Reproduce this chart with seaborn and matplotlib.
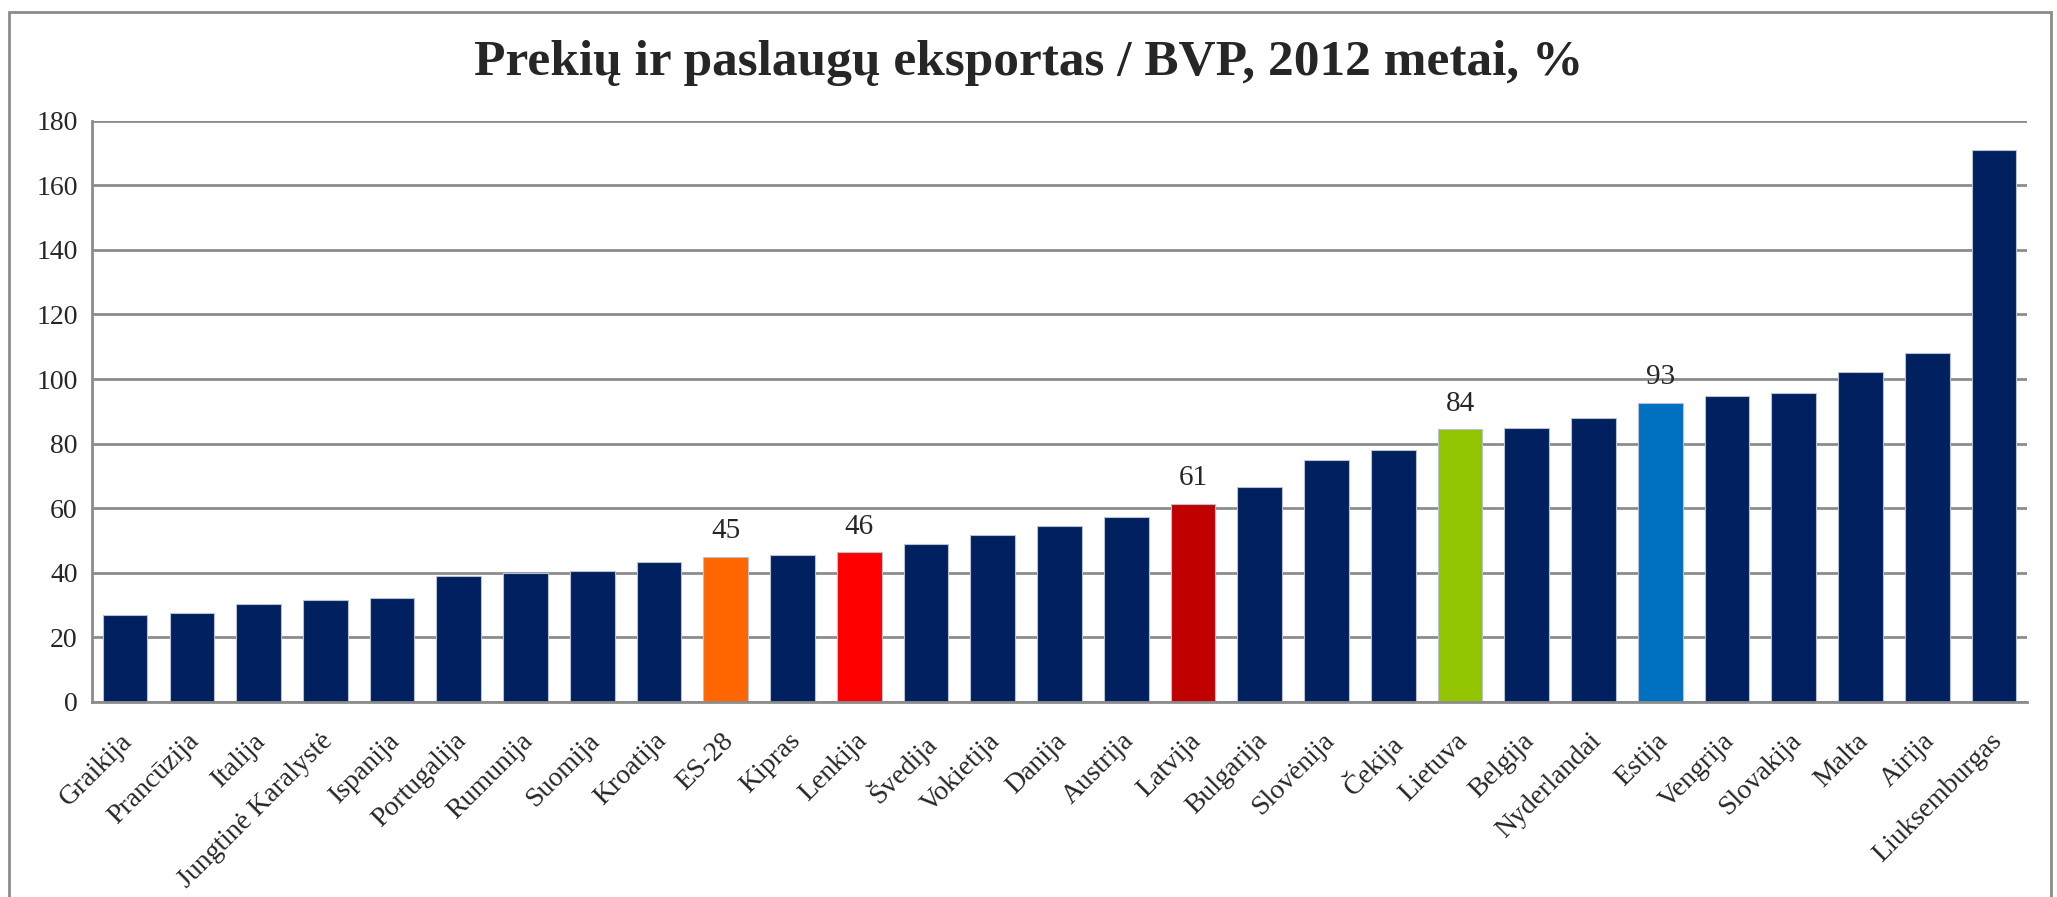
import matplotlib
matplotlib.use("Agg")
import matplotlib.pyplot as plt
from matplotlib.patches import Rectangle
from matplotlib.transforms import ScaledTranslation
import seaborn as sns
import pandas as pd

# chart data
countries = ["Graikija", "Prancūzija", "Italija", "Jungtinė Karalystė", "Ispanija",
             "Portugalija", "Rumunija", "Suomija", "Kroatija", "ES-28", "Kipras",
             "Lenkija", "Švedija", "Vokietija", "Danija", "Austrija", "Latvija",
             "Bulgarija", "Slovėnija", "Čekija", "Lietuva", "Belgija", "Nyderlandai",
             "Estija", "Vengrija", "Slovakija", "Malta", "Airija", "Liuksemburgas"]
export_share = [27.0, 27.5, 30.5, 31.5, 32.3, 39.0, 40.0, 40.5, 43.5, 44.8, 45.5,
                46.3, 48.8, 51.6, 54.5, 57.4, 61.2, 66.7, 75.0, 78.0, 84.4, 85.0,
                88.0, 92.7, 94.8, 95.8, 102.3, 108.0, 171.0]
highlight_labels = {"ES-28": "45", "Lenkija": "46", "Latvija": "61",
                    "Lietuva": "84", "Estija": "93"}

navy = "#002060"
highlight_colors = {"ES-28": "#FF6600", "Lenkija": "#FF0000", "Latvija": "#C00000",
                    "Lietuva": "#92C400", "Estija": "#0070C0"}
palette = [highlight_colors.get(c, navy) for c in countries]

df = pd.DataFrame({"country": countries, "value": export_share})

sns.set_style("white")
plt.rcParams["font.family"] = ["Liberation Serif", "DejaVu Serif"]

fig = plt.figure(figsize=(20.57, 8.97), dpi=100)
ax = fig.add_axes([0.0446, 0.2174, 0.941, 0.648])

sns.barplot(data=df, x="country", y="value", hue="country", palette=palette,
            legend=False, width=0.67, ax=ax, saturation=1,
            edgecolor="#b8c0d4", linewidth=0.8)

ax.set_ylim(0, 180)
ax.set_xlim(-0.5, len(countries) - 0.5)
ax.set_yticks(range(0, 181, 20))
ax.yaxis.grid(True, color="#8c8c8c", linewidth=2)
ax.set_axisbelow(True)
ax.set_xlabel("")
ax.set_ylabel("")

for s in ["top", "right"]:
    ax.spines[s].set_visible(False)
for s in ["left", "bottom"]:
    ax.spines[s].set_color("#8c8c8c")
    ax.spines[s].set_linewidth(2)

ax.tick_params(axis="y", labelsize=20, length=7, width=1.5, color="#8c8c8c", pad=3)
ax.set_xticks(range(len(countries)))
ax.set_xticklabels(countries, rotation=45, ha="right", rotation_mode="anchor", fontsize=20)
ax.tick_params(axis="x", length=0, pad=19)
# small shift so the label ends sit just under the bar centres
for lbl in ax.get_xticklabels():
    lbl.set_transform(lbl.get_transform() + ScaledTranslation(-0.05, 0, fig.dpi_scale_trans))
ax.set_xticks([i - 0.5 for i in range(len(countries) + 1)], minor=True)
ax.tick_params(axis="x", which="minor", length=8, width=1.5, color="#8c8c8c")

# value labels above highlighted bars
for i, (c, v) in enumerate(zip(countries, export_share)):
    if c in highlight_labels:
        ax.text(i, v + 4, highlight_labels[c], ha="center", va="bottom", fontsize=21)

fig.text(0.5, 0.93, "Prekių ir paslaugų eksportas / BVP, 2012 metai, %",
         ha="center", va="center", fontsize=37, fontweight="bold")

# chart frame
fig.patches.append(Rectangle((0.0045, -0.05), 0.9925, 1.037, transform=fig.transFigure,
                             fill=False, edgecolor="#8c8c8c", linewidth=2))

fig.savefig("out.png", dpi=100)
